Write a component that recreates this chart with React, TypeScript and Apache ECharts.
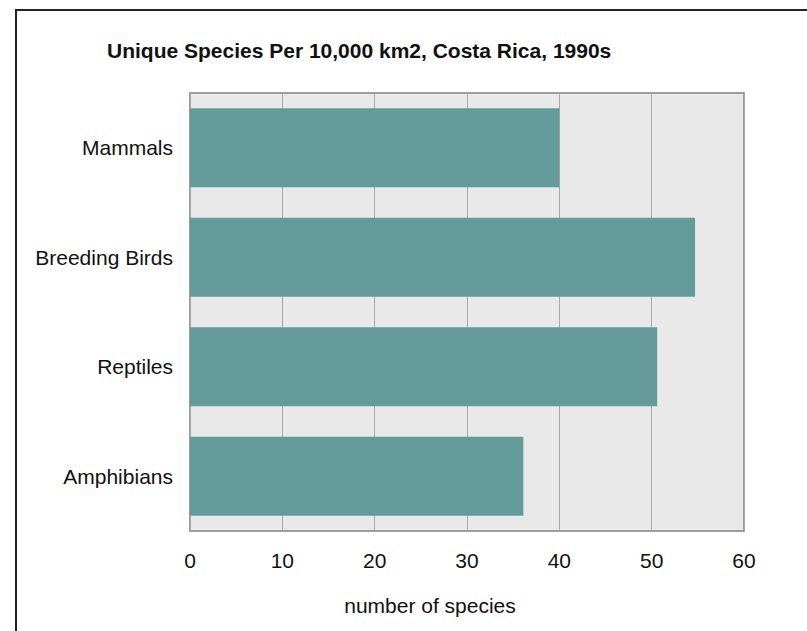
import React, { useEffect, useRef } from "react";
import * as echarts from "echarts";

const categories = ["Mammals", "Breeding Birds", "Reptiles", "Amphibians"];
const speciesCounts = [40, 54.7, 50.6, 36.1];
const xTicks = [0, 10, 20, 30, 40, 50, 60];

const FONT = "Liberation Sans, Arial, Helvetica, sans-serif";

export default function App() {
  const ref = useRef<HTMLDivElement>(null);
  useEffect(() => {
    if (!ref.current) return;
    const chart = echarts.init(ref.current, null, { renderer: "svg" });
    chart.setOption({
      animation: false,
      backgroundColor: "#ffffff",
      grid: {
        left: 190,
        top: 93,
        width: 554,
        height: 438,
        show: true,
        backgroundColor: "#e9e9e9",
        borderColor: "#9c9c9c",
        borderWidth: 2,
        containLabel: false,
      },
      xAxis: {
        type: "value",
        min: xTicks[0],
        max: xTicks[xTicks.length - 1],
        interval: 10,
        axisLine: { show: false },
        axisTick: { show: false },
        axisLabel: {
          margin: 19,
          fontSize: 21,
          fontFamily: FONT,
          color: "#111",
        },
        splitLine: { show: true, lineStyle: { color: "#a8a8a8", width: 1 } },
      },
      yAxis: {
        type: "category",
        data: categories,
        inverse: true,
        axisLine: { show: false },
        axisTick: { show: false },
        axisLabel: {
          margin: 17,
          fontSize: 21,
          fontFamily: FONT,
          color: "#111",
        },
        splitLine: { show: false },
      },
      series: [
        {
          type: "bar",
          data: speciesCounts,
          barCategoryGap: "28%",
          itemStyle: { color: "#629b99" },
        },
      ],
      graphic: [
        {
          type: "rect",
          shape: { x: 16, y: 10, width: 900, height: 700 },
          style: { fill: "none", stroke: "#222", lineWidth: 2 },
          silent: true,
        },
        {
          type: "text",
          x: 107,
          y: 50,
          style: {
            text: "Unique Species Per 10,000 km2, Costa Rica, 1990s",
            font: `bold 21px ${FONT}`,
            fill: "#111",
            align: "left",
            verticalAlign: "middle",
          },
        },
        {
          type: "text",
          x: 430,
          y: 605,
          style: {
            text: "number of species",
            font: `21px ${FONT}`,
            fill: "#111",
            align: "center",
            verticalAlign: "middle",
          },
        },
      ],
    });
    return () => chart.dispose();
  }, []);
  return (
    <div
      ref={ref}
      style={{ position: "absolute", left: 0, top: 0, width: 807, height: 631 }}
    />
  );
}
